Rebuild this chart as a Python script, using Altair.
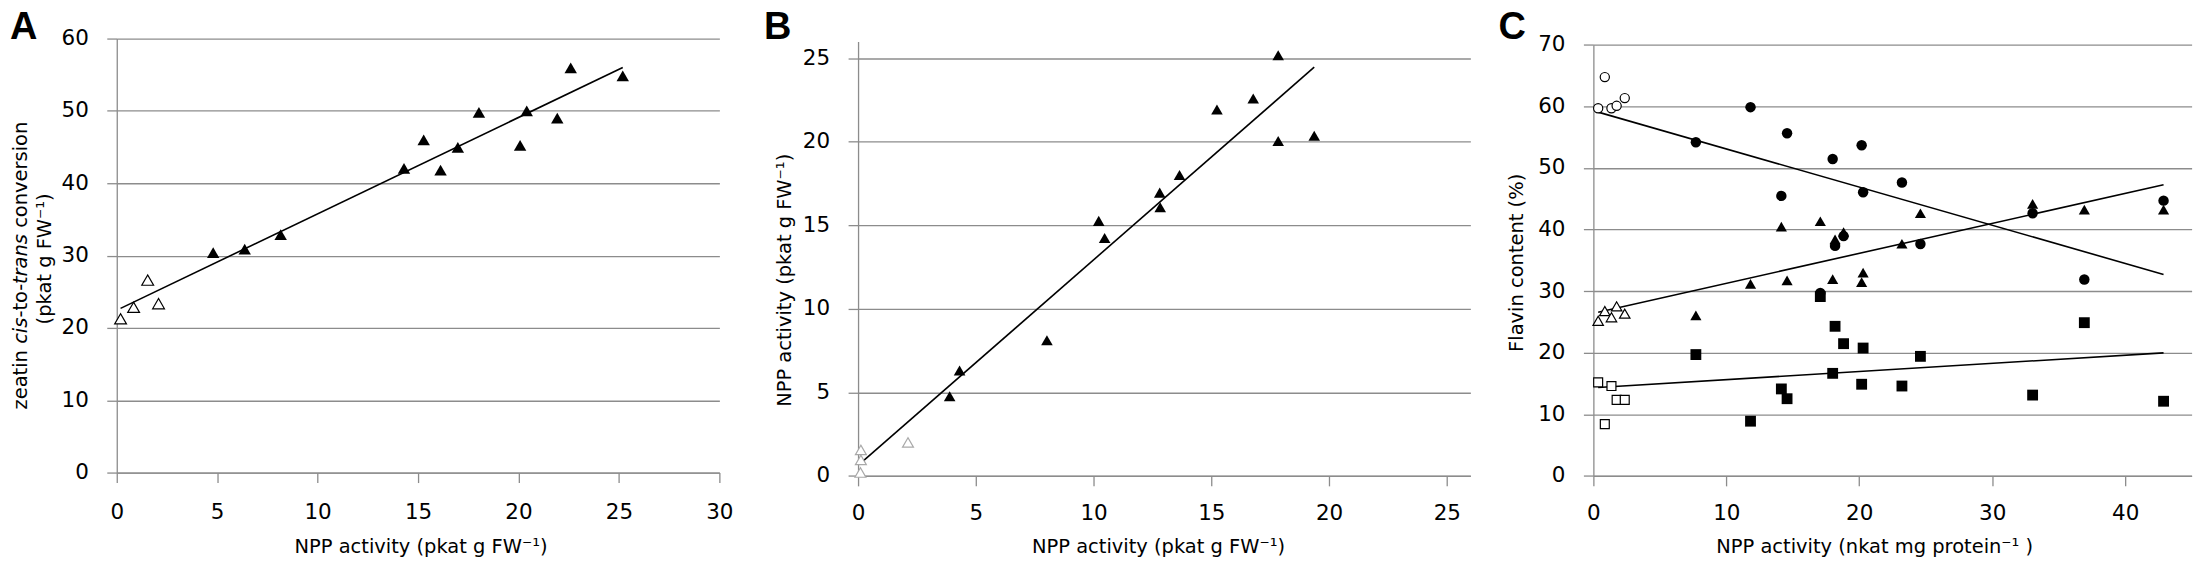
import altair as alt
import pandas as pd

# ---------------- data ----------------
# Panel A: zeatin cis-to-trans conversion vs NPP activity
A_open_x = [0.19, 0.84, 1.54, 2.08]
A_open_y = [21.25, 22.85, 26.6, 23.35]
A_fill_x = [4.8, 6.37, 8.16, 14.3, 15.28, 16.12, 16.98, 18.03, 20.08, 20.41, 21.93, 22.6, 25.19]
A_fill_y = [30.4, 30.9, 32.9, 42.05, 46.0, 41.8, 44.95, 49.8, 45.25, 50.0, 49.0, 55.95, 54.85]

# Panel B: NPP activity vs NPP activity
B_open_x = [0.1, 0.12, 0.12, 2.12]
B_open_y = [0.2, 0.95, 1.55, 2.0]
B_fill_x = [3.89, 4.31, 8.02, 10.22, 10.47, 12.81, 12.83, 13.65, 15.24, 16.78, 17.84, 17.84, 19.37]
B_fill_y = [4.76, 6.3, 8.12, 15.26, 14.24, 16.95, 16.08, 18.0, 21.93, 22.58, 25.17, 20.04, 20.35]

# Panel C: flavin content vs NPP activity
C_open_x = [0.36, 0.86, 1.36, 1.75, 2.36]
C_fill_x = [7.71, 11.82, 14.14, 14.57, 17.07, 18.0, 18.18, 18.82, 20.18, 20.29, 23.21, 24.6, 33.04, 36.93, 42.89]
C_circle_open = [59.7, 64.76, 59.7, 60.1, 61.35]
C_circle_fill = [54.18, 59.88, 45.47, 55.65, 29.7, 51.47, 37.35, 38.94, 53.7, 46.06, 47.65, 37.65, 42.65, 31.88, 44.7]
C_tri_open = [25.18, 26.76, 25.76, 27.53, 26.35]
C_tri_fill = [26.06, 31.18, 40.47, 31.76, 41.35, 31.94, 38.41, 39.6, 31.47, 33.0, 37.7, 42.65, 44.18, 43.24, 43.24]
C_sq_open = [15.18, 8.41, 14.59, 12.35, 12.35]
C_sq_fill = [19.7, 8.88, 14.12, 12.53, 29.12, 16.65, 24.29, 21.47, 14.88, 20.76, 14.59, 19.41, 13.12, 24.88, 12.12]

A_xticks = [0, 5, 10, 15, 20, 25, 30]
A_yticks = [0, 10, 20, 30, 40, 50, 60]
B_xticks = [0, 5, 10, 15, 20, 25]
B_yticks = [0, 5, 10, 15, 20, 25]
C_xticks = [0, 10, 20, 30, 40]
C_yticks = [0, 10, 20, 30, 40, 50, 60, 70]

X_TITLE_PKAT = "NPP activity (pkat g FW⁻¹)"
X_TITLE_NKAT = "NPP activity (nkat mg protein⁻¹ )"
Y_TITLE_B = "NPP activity (pkat g FW⁻¹)"
Y_TITLE_C = "Flavin content (%)"
Y_TITLE_A_LINE1 = [("zeatin", "normal"), ("cis", "italic"), ("-to-", "normal"),
                   ("trans", "italic"), ("conversion", "normal")]
Y_TITLE_A_LINE2 = "(pkat g FW⁻¹)"

# ---------------- styling ----------------
FONT = "DejaVu Sans"
GRID = "#8c8c8c"
TITLE_FS = 19.5
LABEL_FS = 21.5


def x_axis(values, title, title_x, title_y, label_pad):
    return alt.Axis(values=values, title=title, grid=False,
                    domainColor=GRID, domainWidth=1.3,
                    tickColor=GRID, tickWidth=1.3, tickSize=10,
                    labelFont=FONT, labelFontSize=LABEL_FS, labelColor="black",
                    labelPadding=label_pad, labelFlush=False, labelOverlap=False,
                    titleFont=FONT, titleFontSize=TITLE_FS, titleFontWeight="normal",
                    titleColor="black", titleX=title_x, titleY=title_y,
                    titleAlign="center", titleBaseline="alphabetic")


def y_axis(values, title=None, title_x=0, title_y=0):
    kw = dict(values=values, grid=True, gridColor=GRID, gridWidth=1.3,
              domainColor=GRID, domainWidth=1.3,
              tickColor=GRID, tickWidth=1.3, tickSize=10,
              labelFont=FONT, labelFontSize=LABEL_FS, labelColor="black",
              labelPadding=18.5, labelFlush=False, labelOverlap=False)
    if title is None:
        kw["title"] = None
    else:
        kw.update(title=title, titleFont=FONT, titleFontSize=TITLE_FS,
                  titleFontWeight="normal", titleColor="black",
                  titleAngle=270, titleX=title_x, titleY=title_y,
                  titleAlign="center", titleBaseline="alphabetic")
    return alt.Axis(**kw)


def letter(text, x, y):
    return alt.Chart(pd.DataFrame({"t": [text]})).mark_text(
        font="Liberation Sans", fontWeight="bold", fontSize=38,
        align="left", baseline="alphabetic", color="black"
    ).encode(text="t:N", x=alt.value(x), y=alt.value(y))


def pts(base, cond, shape, filled, size, stroke="black", x=None, y=None):
    if filled:
        m = base.transform_filter(cond).mark_point(
            shape=shape, filled=True, color="black", size=size, opacity=1)
    else:
        m = base.transform_filter(cond).mark_point(
            shape=shape, filled=True, fill="white", stroke=stroke,
            strokeWidth=1.2, size=size, opacity=1)
    return m.encode(x=x, y=y)


# ---------------- panel A ----------------
dfA = pd.DataFrame({"x": A_open_x + A_fill_x, "y": A_open_y + A_fill_y,
                    "kind": ["open"] * len(A_open_x) + ["filled"] * len(A_fill_x)})
xA = alt.X("x:Q", scale=alt.Scale(domain=[0, 30], range=[0, 604], nice=False, zero=False),
           axis=x_axis(A_xticks, X_TITLE_PKAT, 304.5, 80, 19.5))
yA = alt.Y("y:Q", scale=alt.Scale(domain=[0, 60], range=[435, 0], nice=False, zero=False),
           axis=y_axis(A_yticks))
baseA = alt.Chart(dfA)
lineA = baseA.transform_regression("x", "y").mark_line(color="black", strokeWidth=1.6).encode(x=xA, y=yA)
openA = pts(baseA, "datum.kind == 'open'", "triangle-up", False, 140, x=xA, y=yA)
fillA = pts(baseA, "datum.kind == 'filled'", "triangle-up", True, 155, x=xA, y=yA)

# two-line y title of panel A with italic parts
seg_layers = []
em_adv = {"zeatin": 3.057, "cis": 1.349, "-to-": 1.726, "trans": 2.571, "conversion": 5.459}
space_em = 0.318
ypos = 371.8
for txt, style in Y_TITLE_A_LINE1:
    seg_layers.append(
        alt.Chart(pd.DataFrame({"t": [txt]})).mark_text(
            font=FONT, fontSize=TITLE_FS, fontStyle=style, angle=270,
            align="left", baseline="alphabetic", color="black"
        ).encode(text="t:N", x=alt.value(-90), y=alt.value(ypos))
    )
    ypos -= em_adv[txt] * TITLE_FS
    if txt in ("zeatin", "trans"):
        ypos -= space_em * TITLE_FS
seg_layers.append(
    alt.Chart(pd.DataFrame({"t": [Y_TITLE_A_LINE2]})).mark_text(
        font=FONT, fontSize=TITLE_FS, angle=270, align="center",
        baseline="alphabetic", color="black"
    ).encode(text="t:N", x=alt.value(-65.5), y=alt.value(220.8))
)

panelA = alt.layer(lineA, openA, fillA, letter("A", -107, 0.3), *seg_layers).properties(
    width=619.3, height=435)

# ---------------- panel B ----------------
dfB = pd.DataFrame({"x": B_open_x + B_fill_x, "y": B_open_y + B_fill_y,
                    "kind": ["open"] * len(B_open_x) + ["filled"] * len(B_fill_x)})
xB = alt.X("x:Q", scale=alt.Scale(domain=[0, 26], range=[0, 613.7], nice=False, zero=False),
           axis=x_axis(B_xticks, X_TITLE_PKAT, 300.7, 77, 17.2))
yB = alt.Y("y:Q", scale=alt.Scale(domain=[0, 26], range=[438.3, 2.85], nice=False, zero=False),
           axis=y_axis(B_yticks, Y_TITLE_B, -68, 241.8))
baseB = alt.Chart(dfB)
lineB = baseB.transform_regression("x", "y").mark_line(color="black", strokeWidth=1.6).encode(x=xB, y=yB)
openB = pts(baseB, "datum.kind == 'open'", "triangle-up", False, 120, stroke="#a9a9a9", x=xB, y=yB)
fillB = pts(baseB, "datum.kind == 'filled'", "triangle-up", True, 135, x=xB, y=yB)
panelB = alt.layer(lineB, openB, fillB, letter("B", -94.3, 0.5)).properties(width=613.7, height=438.3)

# ---------------- panel C ----------------
n_o, n_f = len(C_open_x), len(C_fill_x)
dfC = pd.DataFrame({
    "x": (C_open_x + C_fill_x) * 3,
    "y": C_circle_open + C_circle_fill + C_tri_open + C_tri_fill + C_sq_open + C_sq_fill,
    "series": ["circle"] * (n_o + n_f) + ["triangle"] * (n_o + n_f) + ["square"] * (n_o + n_f),
    "kind": (["open"] * n_o + ["filled"] * n_f) * 3,
})
xC = alt.X("x:Q", scale=alt.Scale(domain=[0, 45], range=[0, 599.6], nice=False, zero=False),
           axis=x_axis(C_xticks, X_TITLE_NKAT, 281.5, 77, 17.2))
yC = alt.Y("y:Q", scale=alt.Scale(domain=[0, 70], range=[438.3, 6.3], nice=False, zero=False),
           axis=y_axis(C_yticks, Y_TITLE_C, -71, 224.3))
baseC = alt.Chart(dfC)
lineC = baseC.transform_regression("x", "y", groupby=["series"]).mark_line(
    color="black", strokeWidth=1.6).encode(x=xC, y=yC, detail="series:N")
layersC = [lineC]
for ser, shape, so, sf in [("circle", "circle", 85, 110), ("triangle", "triangle-up", 110, 125),
                            ("square", "square", 80, 118)]:
    layersC.append(pts(baseC, f"datum.series == '{ser}' && datum.kind == 'open'", shape, False, so, x=xC, y=yC))
    layersC.append(pts(baseC, f"datum.series == '{ser}' && datum.kind == 'filled'", shape, True, sf, x=xC, y=yC))
panelC = alt.layer(*layersC, letter("C", -95, 0.5)).properties(width=599.6, height=438.3)

chart = alt.hconcat(panelA, panelB, panelC, spacing=123, bounds="flush",
                    padding={"left": 2, "top": 0, "right": 4, "bottom": 6}
                    ).configure_view(stroke=None).properties(background="white")

chart.save("out.html", embed_options={"renderer": "svg", "actions": False})
